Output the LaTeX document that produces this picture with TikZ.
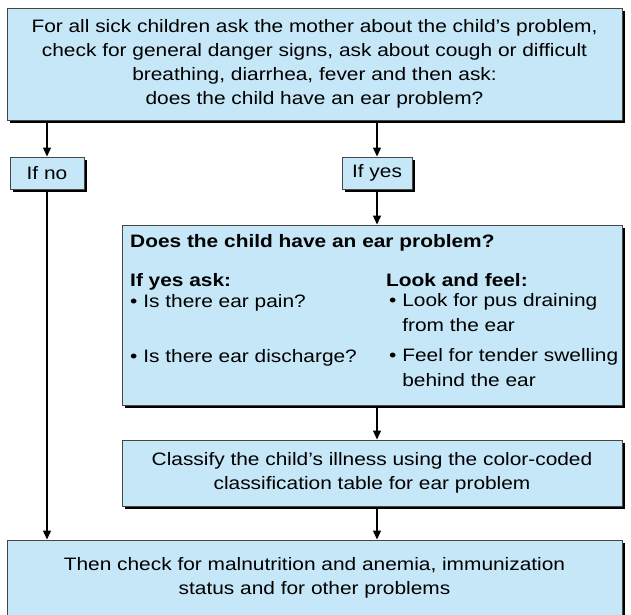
\documentclass[tikz,border=0pt]{standalone}
\usepackage{fontspec}
\setmainfont{Liberation Sans}[FakeStretch=1.16]
\usetikzlibrary{arrows.meta, positioning, calc, shadows}

\definecolor{boxblue}{RGB}{197,231,247}
\definecolor{boxline}{RGB}{70,70,70}

\begin{document}
\begin{tikzpicture}[
    x=1pt, y=1pt,
    box/.style={draw=boxline, line width=1pt, fill=boxblue, inner sep=0pt,
      drop shadow={shadow xshift=3pt, shadow yshift=-3pt, fill=black, opacity=1},
      font=\fontsize{18}{24}\selectfont, align=center},
    txt/.style={anchor=base west, inner sep=0pt, font=\fontsize{18}{24.5}\selectfont, align=left},
    head/.style={txt, font=\fontsize{18}{24}\selectfont\bfseries},
    link/.style={line width=1.4pt, -{Triangle[length=9pt, width=8pt]}},
  ]
    \useasboundingbox (0,0) rectangle (631,-614);

    % boxes
    \node[box, minimum width=615, minimum height=112] (start) at (314.5,-64)
      {For all sick children ask the mother about the child's problem,\\
       check for general danger signs, ask about cough or difficult\\
       breathing, diarrhea, fever and then ask:\\
       does the child have an ear problem?};
    \node[box, minimum width=74, minimum height=32] (no) at (47,-173) {If no};
    \node[box, minimum width=70, minimum height=32] (yes) at (377,-173) {If yes};
    \node[box, minimum width=500, minimum height=180] (ear) at (372,-315) {};
    \node[box, minimum width=500, minimum height=66] (classify) at (372,-473)
      {Classify the child's illness using the color-coded\\
       classification table for ear problem};
    \node[box, minimum width=615, minimum height=76] (then) at (314.5,-578)
      {Then check for malnutrition and anemia, immunization\\
       status and for other problems};

    % text of the ear box
    \node[head] (q) at (130,-247) {Does the child have an ear problem?};
    \node[head] (ask) at (130,-286) {If yes ask:};
    \node[head] (look) at (386,-286) {Look and feel:};
    \node[txt] (pain) at (130,-307) {\textbullet\ Is there ear pain?};
    \node[txt] (disch) at (130,-362) {\textbullet\ Is there ear discharge?};
    \node[txt] (pus) at (389,-331) {\textbullet\ Look for pus draining\\\phantom{\textbullet\ }from the ear};
    \node[txt] (swell) at (389,-386) {\textbullet\ Feel for tender swelling\\\phantom{\textbullet\ }behind the ear};

    % connectors
    \draw[link] (start.south -| no) -- (no);
    \draw[link] (start.south -| yes) -- (yes);
    \draw[link] (yes) -- (yes |- ear.north);
    \draw[link] (ear.south -| yes) -- (classify.north -| yes);
    \draw[link] (classify.south -| yes) -- (then.north -| yes);
    \draw[link] (no) -- (then.north -| no);
\end{tikzpicture}
\end{document}
